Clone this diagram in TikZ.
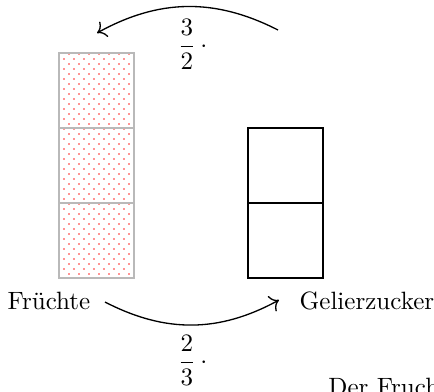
\documentclass[tikz,border=0pt]{standalone}
\usepackage{amsmath}
\usetikzlibrary{arrows.meta,calc,positioning}

\tikzset{
  fruitbox/.style={draw=gray!55, line width=0.8pt},
  sugarbox/.style={draw=black, line width=0.8pt},
  ratioarrow/.style={->, semithick, bend right=28, >={To[scale=1.3]}},
  fruitdot/.style={fill=red!85},
  label text/.style={scale=1.14}
}

\begin{document}
\begin{tikzpicture}
  \useasboundingbox (0,0) rectangle (6.944,-6.256);
  % Fruechte: drei Teile
  \foreach \j in {0,...,44}
    \foreach \i in {0,...,6}
      \fill[fruitdot] ({1.024+0.16*\i+0.08*(1-mod(\j,2))},{-0.864-0.08*\j}) circle (0.42pt);
  \foreach \k in {0,1,2}
    \draw[fruitbox] (0.95,{-0.848-1.2*\k}) rectangle (2.15,{-2.048-1.2*\k});
  % Gelierzucker: zwei Teile
  \foreach \k in {0,1}
    \draw[sugarbox] (3.97,{-2.048-1.2*\k}) rectangle (5.17,{-3.248-1.2*\k});
  \node[label text, anchor=base] (fruit) at (0.784,-4.944) {Früchte};
  \node[label text, anchor=base] (sugar) at (5.872,-4.944) {Gelierzucker};
  \coordinate (topstart) at (4.448,-0.48);
  \coordinate (topend) at (1.552,-0.528);
  \coordinate (botstart) at (1.68,-4.832);
  \coordinate (botend) at (4.464,-4.8);
  \draw[ratioarrow] (topstart) to (topend);
  \draw[ratioarrow] (botstart) to (botend);
  \node[label text, anchor=base] (upfactor) at (3.08,-0.84) {$\dfrac{3}{2}\,\cdot$};
  \node[label text, anchor=base] (downfactor) at (3.08,-5.9) {$\dfrac{2}{3}\,\cdot$};
  \node[label text, anchor=base west] (caption) at (5.114,-6.32) {Der Frucht};
\end{tikzpicture}
\end{document}
